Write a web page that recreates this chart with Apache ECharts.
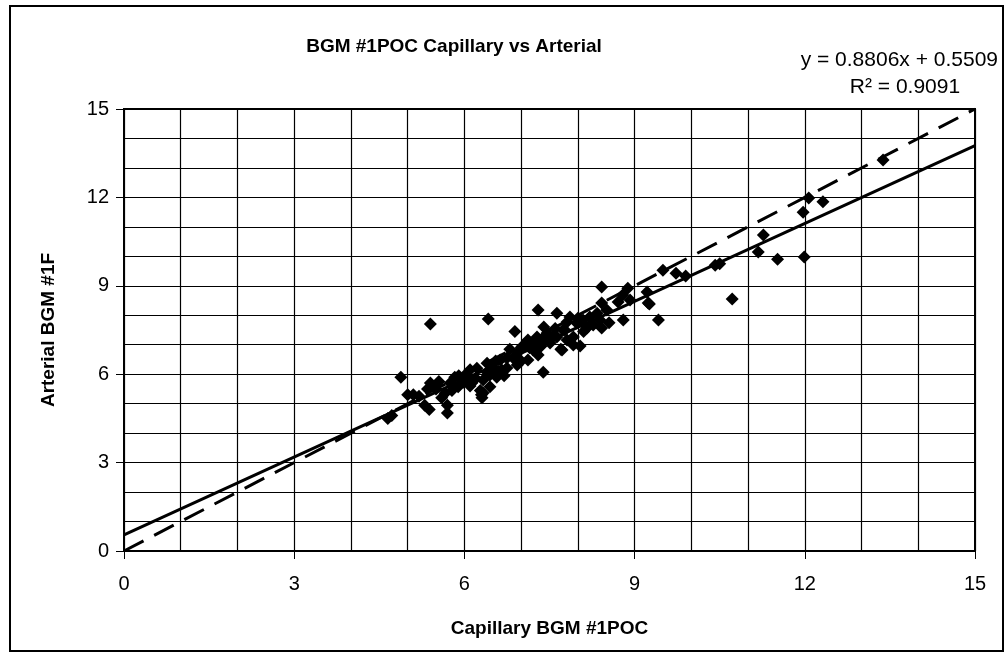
<!DOCTYPE html>
<html>
<head>
<meta charset="utf-8">
<script src="https://cdn.jsdelivr.net/npm/echarts@6/dist/echarts.min.js"></script>
<style>
html,body{margin:0;padding:0;background:#fff;}
#chart{width:1007px;height:654px;}
</style>
</head>
<body>
<div id="chart"></div>
<script>
// ---- data ----
const capX = [4.65,4.72,4.88,5.0,5.1,5.2,5.3,5.38,5.4,5.35,5.4,5.5,5.55,5.6,5.66,5.7,5.7,5.75,5.78,5.83,
  5.89,5.95,5.98,6.06,6.1,6.13,6.2,6.22,6.28,6.3,6.33,6.31,6.33,6.4,6.4,6.42,6.45,6.45,6.5,6.55,
  6.57,6.6,6.63,6.66,6.7,6.75,6.75,6.8,6.86,6.89,6.93,6.95,7.0,7.05,7.12,7.12,7.15,7.21,7.25,7.28,
  7.3,7.3,7.35,7.37,7.39,7.42,7.46,7.51,7.55,7.63,7.63,7.7,7.72,7.74,7.77,7.81,7.81,7.86,7.92,7.92,
  7.98,8.04,8.09,8.1,8.16,8.21,8.27,8.34,8.39,8.42,8.42,8.42,8.51,8.55,8.71,8.79,8.8,8.88,8.92,9.22,
  9.24,9.26,9.42,9.5,9.73,9.9,10.42,10.5,10.72,11.18,11.27,11.52,11.99,11.97,12.07,12.32,13.38,7.0,6.1,6.0,
  5.9,7.6,7.4,8.0];
const artY = [4.5,4.6,5.9,5.3,5.3,5.25,4.95,4.8,7.7,5.5,5.7,5.5,5.75,5.2,5.35,4.95,4.68,5.7,5.45,5.9,
  5.57,5.8,5.73,5.9,5.6,5.7,5.85,6.2,5.45,5.3,5.36,5.2,5.8,6.37,6.07,7.87,5.97,5.57,6.24,6.45,
  5.9,6.1,6.48,6.14,5.95,6.55,6.21,6.85,6.55,7.45,6.31,6.75,6.9,7.0,6.48,7.16,6.9,6.82,7.05,7.26,
  6.65,8.18,6.95,7.09,6.07,7.3,7.4,7.06,7.25,7.26,8.07,6.85,6.82,7.5,7.5,7.16,7.77,7.94,7.26,6.99,
  7.74,6.96,7.84,7.45,7.57,7.94,7.67,8.07,7.84,8.42,7.57,8.96,8.18,7.75,8.45,8.69,7.84,8.92,8.52,8.79,
  8.42,8.38,7.84,9.53,9.43,9.33,9.7,9.75,8.55,10.15,10.72,9.9,9.98,11.5,11.98,11.85,13.27,6.45,6.15,5.95,
  5.95,7.55,7.6,7.9];
const trendSlope = 0.8806;
const trendIntercept = 0.5509;
const axisRange = [0, 15];
const tickLabels = ['0','3','6','9','12','15'];
const titleText = 'BGM #1POC Capillary vs Arterial';
const eqText = 'y = 0.8806x + 0.5509';
const r2Text = 'R\u00B2 = 0.9091';
const xName = 'Capillary BGM #1POC';
const yName = 'Arterial BGM #1F';

// ---- build ----
const points = capX.map((x, i) => [x, artY[i]]);
const trendLine = axisRange.map(x => [x, trendSlope * x + trendIntercept]);
const identityLine = axisRange.map(x => [x, x]);
const FONT = "'Liberation Sans', Arial, sans-serif";

const chart = echarts.init(document.getElementById('chart'), null, {renderer: 'canvas'});

const valueAxis = (name, nameGap, labelMargin) => ({
  type: 'value',
  min: 0, max: 15, interval: 3,
  name: name,
  nameLocation: 'middle',
  nameGap: nameGap,
  nameTextStyle: {fontFamily: FONT, fontSize: 19, fontWeight: 'bold', color: '#000'},
  axisLine: {show: true, onZero: false, lineStyle: {color: '#000', width: 2}},
  axisTick: {show: true, inside: false, length: 8, lineStyle: {color: '#000', width: 1}},
  axisLabel: {
    fontFamily: FONT, fontSize: 20, color: '#000', margin: labelMargin,
    formatter: v => tickLabels.includes(String(v)) ? String(v) : ''
  },
  splitLine: {show: true, lineStyle: {color: '#000', width: 1.2}},
  minorTick: {show: false, splitNumber: 3},
  minorSplitLine: {show: true, lineStyle: {color: '#000', width: 1.2}}
});

chart.setOption({
  backgroundColor: '#fff',
  animation: false,
  title: [
    {text: titleText, left: 449, top: 32, textAlign: 'center',
     textStyle: {fontFamily: FONT, fontSize: 19, fontWeight: 'bold', color: '#000'}},
    {text: eqText, right: 4, top: 45,
     textStyle: {fontFamily: FONT, fontSize: 21, fontWeight: 'normal', color: '#000'}},
    {text: r2Text, left: 900, top: 72, textAlign: 'center',
     textStyle: {fontFamily: FONT, fontSize: 21, fontWeight: 'normal', color: '#000'}}
  ],
  grid: {left: 124, right: 32, top: 109, bottom: 103, show: true, borderColor: '#000', borderWidth: 2, containLabel: false},
  xAxis: valueAxis(xName, 68, 23),
  yAxis: valueAxis(yName, 66, 15),
  graphic: [
    {type: 'rect', shape: {x: 10, y: 6, width: 993, height: 645}, style: {fill: 'none', stroke: '#000', lineWidth: 2}, silent: true, z: -1}
  ],
  series: [
    {type: 'line', data: identityLine, symbol: 'none', z: 3,
     lineStyle: {color: '#000', width: 3, type: [22, 12]}},
    {type: 'line', data: trendLine, symbol: 'none', z: 3,
     lineStyle: {color: '#000', width: 3, type: 'solid'}},
    {type: 'scatter', data: points, symbol: 'diamond', symbolSize: 13, z: 4,
     itemStyle: {color: '#000', opacity: 1}}
  ]
});
</script>
</body>
</html>
